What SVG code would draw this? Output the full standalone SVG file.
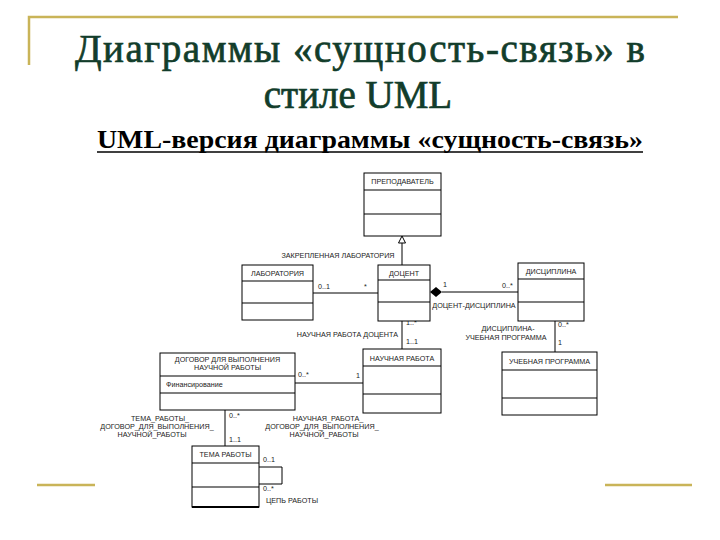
<svg xmlns="http://www.w3.org/2000/svg" width="720" height="540" viewBox="0 0 720 540">
<style>
.box{fill:#fff;stroke:#000;stroke-width:1}
.sep{stroke:#000;stroke-width:1.2}
.t{font-family:"Liberation Sans",Arial,sans-serif;font-size:7.2px;fill:#222}
.m{text-anchor:middle}
.e{text-anchor:end}
.ln{stroke:#000;stroke-width:1;fill:none}
.gold{stroke:#c9b458;stroke-width:2.5;fill:none}
.title{font-family:"Liberation Serif","Times New Roman",serif;fill:#123d2b;stroke:#123d2b;stroke-width:0.7;text-anchor:middle}
</style>
<rect width="720" height="540" fill="#fff"/>
<g id="frame">
<path class="gold" d="M29,65 V17 H678"/>
<line class="gold" x1="37" y1="485" x2="95" y2="485"/>
<line class="gold" x1="605" y1="485" x2="692" y2="485"/>
</g>
<g id="titles">
<text class="title" x="360" y="62" font-size="39" textLength="570" lengthAdjust="spacing">Диаграммы «сущность-связь» в</text>
<text class="title" x="358" y="108" font-size="39">стиле UML</text>
<text x="370" y="148" font-family="Liberation Serif,'Times New Roman',serif" font-weight="bold" font-size="25" fill="#000" text-anchor="middle" textLength="546" lengthAdjust="spacingAndGlyphs">UML-версия диаграммы «сущность-связь»</text>
<line x1="97" y1="152" x2="643" y2="152" stroke="#000" stroke-width="1.5"/>
</g>
<g id="connectors">
<line class="ln" x1="402" y1="265" x2="402" y2="242"/>
<polygon points="402,236 398.5,243 405.5,243" fill="#fff" stroke="#000" stroke-width="1"/>
<line class="ln" x1="313" y1="293" x2="378" y2="293"/>
<line class="ln" x1="442" y1="292" x2="518" y2="292"/>
<polygon points="430,292 436,287 442,292 436,297" fill="#000"/>
<line class="ln" x1="555" y1="321" x2="555" y2="352"/>
<line class="ln" x1="402" y1="321" x2="402" y2="349"/>
<line class="ln" x1="295" y1="383" x2="363" y2="383"/>
<line class="ln" x1="225" y1="410" x2="225" y2="446"/>
<path class="ln" d="M259,467 H282 V484 H259"/>
<text class="t m" x="338" y="258">ЗАКРЕПЛЕННАЯ ЛАБОРАТОРИЯ</text>
<text class="t" x="318" y="289">0..1</text>
<text class="t" x="364" y="289">*</text>
<text class="t" x="443" y="287">1</text>
<text class="t" x="502" y="288">0..*</text>
<text class="t m" x="474" y="308">ДОЦЕНТ-ДИСЦИПЛИНА</text>
<text class="t" x="558" y="327">0..*</text>
<text class="t" x="558" y="345">1</text>
<text class="t m" x="508" y="331">ДИСЦИПЛИНА-</text>
<text class="t m" x="506" y="340">УЧЕБНАЯ ПРОГРАММА</text>
<text class="t" x="406" y="325">1..*</text>
<text class="t" x="406" y="344">1..1</text>
<text class="t e" x="398" y="337">НАУЧНАЯ РАБОТА ДОЦЕНТА</text>
<text class="t" x="298" y="377">0..*</text>
<text class="t" x="356" y="378">1</text>
<text class="t m" x="328" y="421">НАУЧНАЯ_РАБОТА_</text>
<text class="t m" x="322" y="429">ДОГОВОР_ДЛЯ_ВЫПОЛНЕНИЯ_</text>
<text class="t m" x="324" y="437">НАУЧНОЙ_РАБОТЫ</text>
<text class="t" x="229" y="418">0..*</text>
<text class="t" x="229" y="442">1..1</text>
<text class="t m" x="160" y="421">ТЕМА_РАБОТЫ_</text>
<text class="t m" x="157" y="429">ДОГОВОР_ДЛЯ_ВЫПОЛНЕНИЯ_</text>
<text class="t m" x="152" y="437">НАУЧНОЙ_РАБОТЫ</text>
<text class="t" x="263" y="462">0..1</text>
<text class="t" x="263" y="491">0..*</text>
<text class="t" x="266" y="503">ЦЕПЬ РАБОТЫ</text>
</g>
<g id="prepodavatel">
<rect class="box" x="364" y="173" width="77" height="63"/>
<line class="sep" x1="364" y1="190" x2="441" y2="190"/>
<line class="sep" x1="364" y1="214" x2="441" y2="214"/>
<text class="t m" x="402.5" y="184">ПРЕПОДАВАТЕЛЬ</text>
</g>
<g id="laboratoriya">
<rect class="box" x="242" y="265" width="71" height="55"/>
<line class="sep" x1="242" y1="281" x2="313" y2="281"/>
<line class="sep" x1="242" y1="303" x2="313" y2="303"/>
<text class="t m" x="277.5" y="276">ЛАБОРАТОРИЯ</text>
</g>
<g id="docent">
<rect class="box" x="378" y="265" width="52" height="56"/>
<line class="sep" x1="378" y1="280" x2="430" y2="280"/>
<line class="sep" x1="378" y1="302" x2="430" y2="302"/>
<text class="t m" x="404" y="276">ДОЦЕНТ</text>
</g>
<g id="disciplina">
<rect class="box" x="518" y="263" width="66" height="58"/>
<line class="sep" x1="518" y1="279" x2="584" y2="279"/>
<line class="sep" x1="518" y1="302" x2="584" y2="302"/>
<text class="t m" x="551" y="274">ДИСЦИПЛИНА</text>
</g>
<g id="dogovor">
<rect class="box" x="160" y="353" width="135" height="57"/>
<line class="sep" x1="160" y1="376" x2="295" y2="376"/>
<line class="sep" x1="160" y1="393" x2="295" y2="393"/>
<text class="t m" x="227.5" y="362">ДОГОВОР ДЛЯ ВЫПОЛНЕНИЯ</text>
<text class="t m" x="227.5" y="370">НАУЧНОЙ РАБОТЫ</text>
<text class="t" x="166" y="387">Финансирование</text>
</g>
<g id="nauchnaya-rabota">
<rect class="box" x="363" y="349" width="78" height="64"/>
<line class="sep" x1="363" y1="366" x2="441" y2="366"/>
<line class="sep" x1="363" y1="394" x2="441" y2="394"/>
<text class="t m" x="402" y="361">НАУЧНАЯ РАБОТА</text>
</g>
<g id="uchebnaya-programma">
<rect class="box" x="502" y="352" width="95" height="63" stroke-width="1.4"/>
<line class="sep" x1="502" y1="370" x2="597" y2="370"/>
<line class="sep" x1="502" y1="398" x2="597" y2="398"/>
<text class="t m" x="549.5" y="364">УЧЕБНАЯ ПРОГРАММА</text>
</g>
<g id="tema-raboty">
<rect class="box" x="192" y="446" width="67" height="61"/>
<line class="sep" x1="192" y1="463" x2="259" y2="463" stroke-width="2"/>
<line class="sep" x1="192" y1="487" x2="259" y2="487"/>
<line x1="192" y1="507" x2="259" y2="507" stroke="#000" stroke-width="2"/>
<text class="t m" x="225.5" y="457">ТЕМА РАБОТЫ</text>
</g>
</svg>
